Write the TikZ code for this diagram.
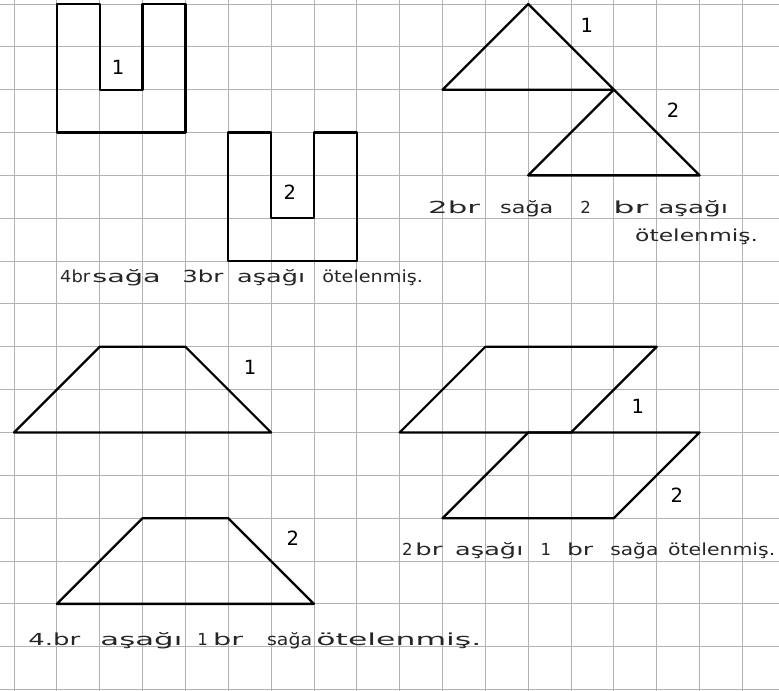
\documentclass[tikz,border=0pt]{standalone}
\usepackage{fontspec}
\usepackage{graphicx}
\setmainfont{DejaVu Sans}
\newcommand\hw[2]{\resizebox{#1cm}{\height}{#2}}
\tikzset{
  gridline/.style={gray!60, line width=0.6pt},
  figline/.style={black, line width=1.5pt, line join=round, line cap=round},
  word/.style={anchor=base west, inner sep=0pt, font=\fontsize{11}{13}\selectfont, text=black!85},
  lbl/.style={inner sep=0pt, font=\fontsize{13}{15}\selectfont, text=black}
}
\begin{document}
\begin{tikzpicture}
\fill[white] (-0.327,0.093) rectangle (17.853,-16.033);
\useasboundingbox (-0.327,0.093) rectangle (17.853,-16.033);
% grid
\foreach \k in {0,...,17} \draw[gridline] (\k,0.093) -- (\k,-16.033);
\foreach \j in {0,...,16} \draw[gridline] (-0.327,-\j) -- (17.853,-\j);
% U shapes
\draw[figline] (2,0) -- (1,0) -- (1,-3) -- (4,-3) -- (4,0) -- (3,0) -- (3,-2) -- (2,-2) -- cycle;
\draw[figline] (6,-3) -- (5,-3) -- (5,-6) -- (8,-6) -- (8,-3) -- (7,-3) -- (7,-5) -- (6,-5) -- cycle;
\node[lbl] (u1) at (2.43,-1.47) {1};
\node[lbl] (u2) at (6.44,-4.39) {2};
% triangles
\draw[figline] (10,-2) -- (12,0) -- (14,-2) -- cycle;
\draw[figline] (12,-4) -- (14,-2) -- (16,-4) -- cycle;
\node[lbl] (t1) at (13.37,-0.5) {1};
\node[lbl] (t2) at (15.38,-2.48) {2};
% trapezoids
\draw[figline] (0,-10) -- (2,-8) -- (4,-8) -- (6,-10) -- cycle;
\draw[figline] (1,-14) -- (3,-12) -- (5,-12) -- (7,-14) -- cycle;
\node[lbl] (z1) at (5.51,-8.49) {1};
\node[lbl] (z2) at (6.51,-12.46) {2};
% parallelograms
\draw[figline] (9,-10) -- (11,-8) -- (15,-8) -- (13,-10) -- cycle;
\draw[figline] (10,-12) -- (12,-10) -- (16,-10) -- (14,-12) -- cycle;
\node[lbl] (p1) at (14.56,-9.4) {1};
\node[lbl] (p2) at (15.47,-11.46) {2};
% text A
\node[word] (a1) at (1.07,-6.49) {\hw{0.70}{4br}};
\node[word] (a2) at (1.82,-6.49) {\hw{1.60}{sağa}};
\node[word] (a3) at (3.92,-6.49) {\hw{0.96}{3br}};
\node[word] (a4) at (5.2,-6.49) {\hw{1.59}{aşağı}};
\node[word] (a5) at (7.19,-6.49) {\hw{2.35}{ötelenmiş.}};
% text B
\node[word] (b1) at (9.66,-4.88) {\hw{1.21}{2br}};
\node[word] (b2) at (11.34,-4.88) {\hw{1.24}{sağa}};
\node[word] (b3) at (13.21,-4.88) {2};
\node[word] (b4) at (13.98,-4.88) {\hw{0.82}{br}};
\node[word] (b5) at (15.03,-4.88) {\hw{1.63}{aşağı}};
\node[word] (b6) at (14.49,-5.55) {\hw{2.87}{ötelenmiş.}};
% text C
\node[word] (c1) at (0.33,-14.96) {\hw{1.21}{4.br}};
\node[word] (c2) at (2.01,-14.96) {\hw{1.91}{aşağı}};
\node[word] (c3) at (4.27,-14.96) {1};
\node[word] (c4) at (4.64,-14.96) {\hw{0.70}{br}};
\node[word] (c5) at (5.9,-14.96) {\hw{1.05}{sağa}};
\node[word] (c6) at (7.05,-14.96) {\hw{3.85}{ötelenmiş.}};
% text D
\node[word] (d1) at (9.05,-12.86) {2};
\node[word] (d2) at (9.36,-12.86) {\hw{0.63}{br}};
\node[word] (d3) at (10.29,-12.86) {\hw{1.59}{aşağı}};
\node[word] (d4) at (12.28,-12.86) {1};
\node[word] (d5) at (12.9,-12.86) {\hw{0.61}{br}};
\node[word] (d6) at (13.91,-12.86) {\hw{1.12}{sağa}};
\node[word] (d7) at (15.26,-12.86) {\hw{2.5}{ötelenmiş.}};
\end{tikzpicture}
\end{document}
